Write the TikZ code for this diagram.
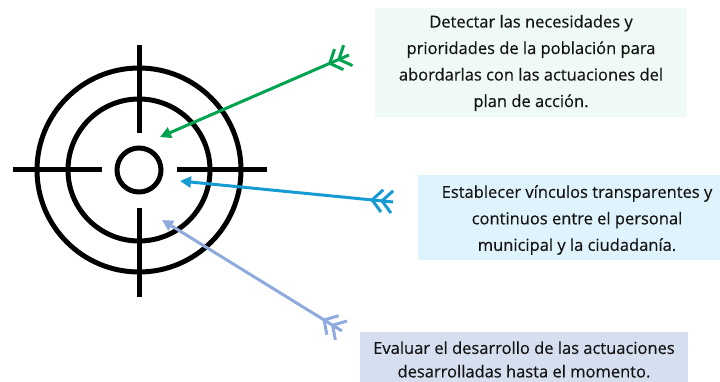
\documentclass[tikz,border=0pt]{standalone}
\usepackage{fontspec}
\setmainfont{Open Sans}
\newfontfamily\boxfont[FakeBold=0.35]{Open Sans}
\usetikzlibrary{arrows.meta,calc}
\definecolor{arrgreen}{RGB}{0,163,80}
\definecolor{arrblue}{RGB}{22,155,213}
\definecolor{arrlight}{RGB}{143,170,220}
\definecolor{boxgreen}{RGB}{239,250,244}
\definecolor{boxblue}{RGB}{222,243,252}
\definecolor{boxlav}{RGB}{214,223,240}
\definecolor{txt}{RGB}{20,20,20}
\tikzset{
  ring/.style={circle,draw=black,line width=5pt,inner sep=0pt},
  hair/.style={draw=black,line width=5pt,line cap=butt},
  infobox/.style={rectangle,draw=none,inner sep=0pt},
  infotext/.style={align=center,text=txt,font=\boxfont\fontsize{16.5}{26.5}\selectfont,inner sep=0pt},
  shaft/.style={line width=3pt,-{Triangle[length=11pt,width=11pt]}},
  feather/.style={line width=3pt,line cap=butt}
}
\newcommand{\fletching}[3]{%
  \coordinate (#1v1) at ($(#1)!11pt!(#2)$);
  \coordinate (#1v2) at ($(#1)!21pt!(#2)$);
  \draw[feather,#3] ($(#1v1)!15pt!48:(#1)$) -- (#1v1) -- ($(#1v1)!15pt!-48:(#1)$);
  \draw[feather,#3] ($(#1v2)!15pt!48:(#1)$) -- (#1v2) -- ($(#1v2)!15pt!-48:(#1)$);
}
\begin{document}
\begin{tikzpicture}[x=1pt,y=-1pt]
\useasboundingbox (0,0) rectangle (720,382);
% target
\node[ring,minimum size=44pt] (c1) at (139,170) {};
\node[ring,minimum size=142pt] (c2) at (139,170) {};
\node[ring,minimum size=204pt] (c3) at (139,170) {};
\coordinate (hl1) at (13,170); \coordinate (hl2) at (102,170);
\coordinate (hr1) at (177,170); \coordinate (hr2) at (267,170);
\coordinate (vt1) at (139,45); \coordinate (vt2) at (139,133);
\coordinate (vb1) at (139,208); \coordinate (vb2) at (139,297);
\draw[hair] (hl1) -- (hl2);
\draw[hair] (hr1) -- (hr2);
\draw[hair] (vt1) -- (vt2);
\draw[hair] (vb1) -- (vb2);
% boxes
\node[infobox,fill=boxgreen,minimum width=312pt,minimum height=109pt] (b1) at (531,62.5) {};
\node[infotext] (t1) at (531,63) {Detectar las necesidades y\\prioridades de la población para\\abordarlas con las actuaciones del\\plan de acción.};
\node[infobox,fill=boxblue,minimum width=302pt,minimum height=85pt] (b2) at (569,217.5) {};
\node[infotext] (t2) at (577,220) {Establecer vínculos transparentes y\\continuos entre el personal\\municipal y la ciudadanía.};
\node[infobox,fill=boxlav,minimum width=328pt,minimum height=56pt] (b3) at (524,360) {};
\node[infotext,font=\boxfont\fontsize{16.5}{23.5}\selectfont] (t3) at (524,359.5) {Evaluar el desarrollo de las actuaciones\\desarrolladas hasta el momento.};
% arrows
\coordinate (gT) at (349,55); \coordinate (gH) at (160,137);
\coordinate (bT) at (393,202); \coordinate (bH) at (180,181);
\coordinate (lT) at (342,331); \coordinate (lH) at (162,220);
\draw[shaft,arrgreen] (gT) -- (gH);
\fletching{gT}{gH}{arrgreen}
\draw[shaft,arrblue] (bT) -- (bH);
\fletching{bT}{bH}{arrblue}
\draw[shaft,arrlight] (lT) -- (lH);
\fletching{lT}{lH}{arrlight}
\end{tikzpicture}
\end{document}
